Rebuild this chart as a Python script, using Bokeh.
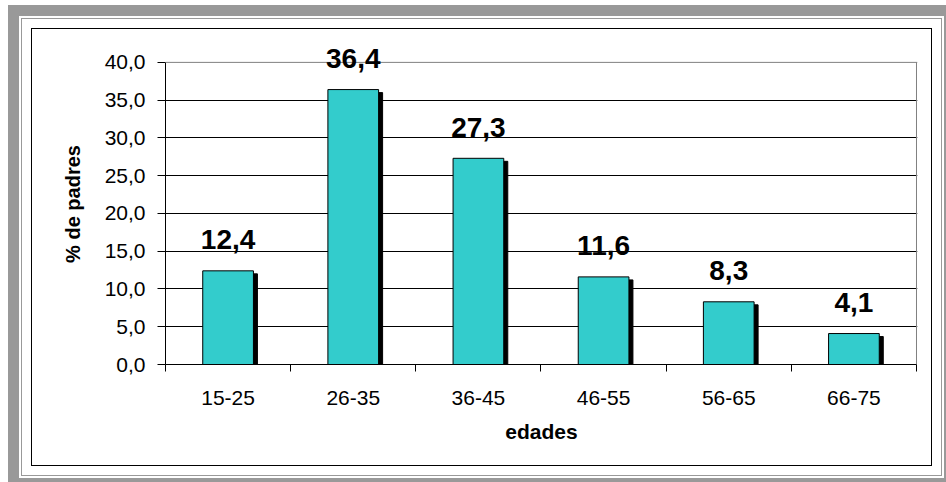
import numpy as np
from bokeh.plotting import figure
from bokeh.models import ColumnDataSource, FixedTicker, CustomJSTickFormatter, Range1d, Label, Span
from bokeh.embed import file_html
from bokeh.resources import INLINE

categories = ["15-25", "26-35", "36-45", "46-55", "56-65", "66-75"]
percent = [12.4, 36.4, 27.3, 11.6, 8.3, 4.1]
y_ticks = [0, 5, 10, 15, 20, 25, 30, 35, 40]

FONT = "Liberation Sans"
BORDER = "#808080"

n = len(categories)
x = np.arange(n) + 0.5
vals = np.array(percent)
labels_txt = [f"{v:.1f}".replace(".", ",") for v in percent]
src = ColumnDataSource(dict(
    x=x,
    top=vals,
    label=labels_txt,
    sx=x + 0.032,
    stop=vals - 0.4,
))

y_max = y_ticks[-1]
# frame extends a little above the top tick so value labels are not clipped
p = figure(width=899, height=436, x_range=Range1d(0, n + 0.008),
           y_range=Range1d(y_ticks[0], y_max + 2.5),
           output_backend="svg", toolbar_location=None,
           min_border_left=133, min_border_right=14,
           min_border_top=14, min_border_bottom=101)
p.styles = {
    "margin-left": "32px",
    "margin-top": "29px",
    "box-shadow": "0 0 0 1px #000, 0 0 0 10px #fff, 0 0 0 11px #999, 0 0 0 13px #fff, 0 0 0 24px #999",
}
p.background_fill_color = "white"
p.border_fill_color = "white"
p.outline_line_color = None

# grid
p.xgrid.visible = False
p.ygrid.ticker = FixedTicker(ticks=y_ticks[1:-1])
p.ygrid.grid_line_color = "black"
p.ygrid.grid_line_width = 1

# plot-area border (top and right)
p.add_layout(Span(location=y_max, dimension="width", line_color=BORDER, line_width=1))
p.segment(x0=[n], y0=[y_ticks[0]], x1=[n], y1=[y_max], line_color=BORDER, line_width=1)

# shadow then bar
p.vbar(x="sx", top="stop", bottom=0, width=0.405, source=src,
       fill_color="black", line_color="black")
p.vbar(x="x", top="top", bottom=0, width=0.405, source=src,
       fill_color="#33CCCC", line_color="black", line_width=1)

for xi, v, t in zip(x, percent, labels_txt):
    p.add_layout(Label(x=float(xi), y=v, text=t, y_offset=31,
                       text_align="center", text_baseline="alphabetic",
                       text_font=FONT, text_font_style="bold",
                       text_font_size="28px", text_color="black"))

# x axis
xa = p.xaxis[0]
xa.bounds = (0, n)
xa.ticker = FixedTicker(ticks=list(x), minor_ticks=list(range(n + 1)))
xa.formatter = CustomJSTickFormatter(args=dict(cats=categories),
                                     code="return cats[Math.floor(tick)]")
xa.major_tick_out = 0
xa.major_tick_in = 0
xa.minor_tick_out = 7
xa.minor_tick_in = 0
xa.minor_tick_line_color = "black"
xa.axis_line_color = "black"
xa.major_label_standoff = 19
xa.major_label_text_font = FONT
xa.major_label_text_font_size = "21px"
xa.major_label_text_color = "black"
xa.axis_label = "edades"
xa.axis_label_text_font = FONT
xa.axis_label_text_font_style = "bold"
xa.axis_label_text_font_size = "21px"
xa.axis_label_standoff = 12
xa.axis_label_text_color = "black"

# y axis
ya = p.yaxis[0]
ya.bounds = (y_ticks[0], y_max)
ya.ticker = FixedTicker(ticks=y_ticks, minor_ticks=[])
ya.formatter = CustomJSTickFormatter(code="return tick.toFixed(1).replace('.', ',')")
ya.major_tick_out = 8
ya.major_tick_in = 0
ya.minor_tick_out = 0
ya.minor_tick_in = 0
ya.axis_line_color = "black"
ya.major_tick_line_color = "black"
ya.major_label_standoff = 12
ya.major_label_text_font = FONT
ya.major_label_text_font_size = "21px"
ya.major_label_text_color = "black"
ya.axis_label = "% de padres"
ya.axis_label_text_font = FONT
ya.axis_label_text_font_style = "bold"
ya.axis_label_text_font_size = "20px"
ya.axis_label_standoff = 18
ya.axis_label_text_color = "black"

open("out.html", "w").write(file_html(p, INLINE))
